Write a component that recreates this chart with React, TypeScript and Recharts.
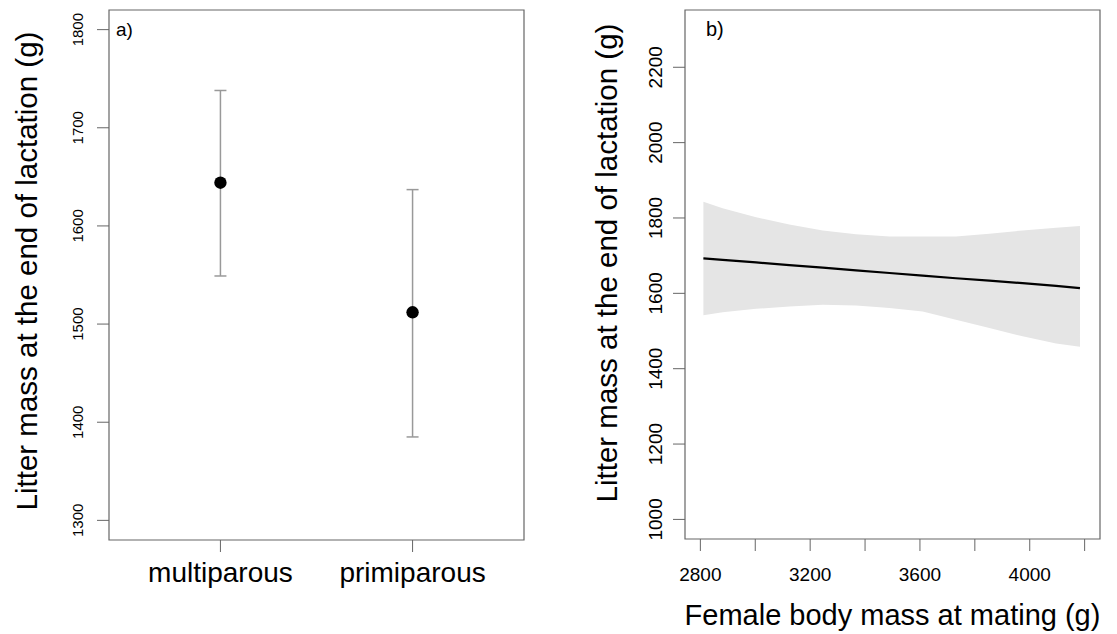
import React from 'react';
import {
  ScatterChart,
  ComposedChart,
  Scatter,
  ErrorBar,
  Area,
  Line,
  XAxis,
  YAxis,
  ReferenceArea,
} from 'recharts';

const FONT = '"Liberation Sans", Arial, Helvetica, sans-serif';

// panel a: litter mass by parity (mean with interval)
const parityGroups = ['multiparous', 'primiparous'];
const parityPos = [1, 2];
const parityMean = [1644, 1512];
const parityLow = [1549, 1385];
const parityHigh = [1738, 1637];
const yTicksA = [1300, 1400, 1500, 1600, 1700, 1800];

// panel b: litter mass vs female body mass (fit + confidence band)
const femaleMass = [2811, 2881, 3003, 3124, 3246, 3367, 3489, 3610, 3731, 3853, 3974, 4096, 4183];
const fitLitter = [1693, 1689, 1682, 1675, 1668, 1661, 1654, 1647, 1640, 1634, 1627, 1620, 1614];
const bandUpper = [1843, 1826, 1802, 1783, 1767, 1757, 1751, 1751, 1751, 1758, 1767, 1774, 1779];
const bandLower = [1542, 1550, 1559, 1565, 1570, 1568, 1561, 1552, 1530, 1508, 1486, 1467, 1458];
const xTicksB = [2800, 3000, 3200, 3400, 3600, 3800, 4000, 4200];
const xLabelsB = [2800, 3200, 3600, 4000];
const yTicksB = [1000, 1200, 1400, 1600, 1800, 2000, 2200];

const Y_TITLE = 'Litter mass at the end of lactation (g)';
const AXIS_GREY = '#666';

const parityData = parityPos.map((pos, i) => ({
  pos,
  mean: parityMean[i],
  err: [parityMean[i] - parityLow[i], parityHigh[i] - parityMean[i]],
}));

const massData = femaleMass.map((mass, i) => ({
  mass,
  fit: fitLitter[i],
  lo: bandLower[i],
  hi: bandUpper[i],
}));

const RotatedTick = (props: any) => {
  const { x, y, payload, size } = props;
  return (
    <text
      x={x}
      y={y}
      transform={`rotate(-90, ${x}, ${y})`}
      textAnchor="middle"
      fontSize={size}
      fontFamily={FONT}
      fill="#000"
    >
      {payload.value}
    </text>
  );
};

const GroupTick = (props: any) => {
  const { x, y, payload } = props;
  return (
    <text x={x} y={y + 30} textAnchor="middle" fontSize={28} fontFamily={FONT} fill="#000">
      {parityGroups[parityPos.indexOf(payload.value)]}
    </text>
  );
};

const MassTick = (props: any) => {
  const { x, y, payload } = props;
  if (!xLabelsB.includes(payload.value)) return null;
  return (
    <text x={x} y={y + 30} textAnchor="middle" fontSize={19} fontFamily={FONT} fill="#000">
      {payload.value}
    </text>
  );
};

const yTitle = (bx: number, cy: number) => () => (
  <text
    x={bx}
    y={cy}
    transform={`rotate(-90, ${bx}, ${cy})`}
    textAnchor="middle"
    fontSize={29.5}
    fontFamily={FONT}
    fill="#000"
  >
    {Y_TITLE}
  </text>
);

const panelTag = (tag: string, x: number, y: number, size: number) => () => (
  <text x={x} y={y} fontSize={size} fontFamily={FONT} fill="#000">
    {tag}
  </text>
);

const ParityPanel = () => (
  <ScatterChart width={560} height={634} margin={{ top: 10, right: 36, bottom: 0, left: 0 }}>
    <XAxis
      type="number"
      dataKey="pos"
      domain={[0.42, 2.58]}
      ticks={parityPos}
      interval={0}
      allowDataOverflow
      height={94}
      axisLine={false}
      tickSize={12}
      tickMargin={0}
      tickLine={{ stroke: AXIS_GREY }}
      tick={<GroupTick />}
    />
    <YAxis
      type="number"
      dataKey="mean"
      domain={[1280, 1820]}
      ticks={yTicksA}
      interval={0}
      allowDataOverflow
      width={109}
      axisLine={false}
      tickSize={12}
      tickMargin={14}
      tickLine={{ stroke: AXIS_GREY }}
      tick={<RotatedTick size={15} />}
      label={yTitle(37, 271)}
    />
    <ReferenceArea
      x1={0.42}
      x2={2.58}
      y1={1280}
      y2={1820}
      fill="none"
      stroke={AXIS_GREY}
      strokeWidth={1.2}
      label={panelTag('a)', 116, 36, 19)}
    />
    <Scatter data={parityData} dataKey="mean" isAnimationActive={false} shape={() => <g />}>
      <ErrorBar dataKey="err" direction="y" width={6} stroke="#999" strokeWidth={1.5} isAnimationActive={false} />
    </Scatter>
    <Scatter
      data={parityData}
      dataKey="mean"
      isAnimationActive={false}
      shape={(p: any) => <circle cx={p.cx} cy={p.cy} r={6.2} fill="#000" />}
    />
  </ScatterChart>
);

const MassPanel = () => (
  <ComposedChart width={557} height={634} data={massData} margin={{ top: 10, right: 17, bottom: 0, left: 0 }}>
    <XAxis
      type="number"
      dataKey="mass"
      domain={[2744, 4256]}
      ticks={xTicksB}
      interval={0}
      allowDataOverflow
      height={95}
      axisLine={false}
      tickSize={12}
      tickMargin={0}
      tickLine={{ stroke: AXIS_GREY }}
      tick={<MassTick />}
      label={() => (
        <text x={332.5} y={625} textAnchor="middle" fontSize={29} fontFamily={FONT} fill="#000">
          Female body mass at mating (g)
        </text>
      )}
    />
    <YAxis
      type="number"
      domain={[948, 2352]}
      ticks={yTicksB}
      interval={0}
      allowDataOverflow
      width={125}
      axisLine={false}
      tickSize={12}
      tickMargin={11}
      tickLine={{ stroke: AXIS_GREY }}
      tick={<RotatedTick size={19} />}
      label={yTitle(57, 263)}
    />
    <Area
      type="linear"
      dataKey={(d: any) => [d.lo, d.hi]}
      stroke="none"
      fill="#e5e5e5"
      fillOpacity={1}
      isAnimationActive={false}
    />
    <Line type="linear" dataKey="fit" stroke="#000" strokeWidth={2.2} dot={false} isAnimationActive={false} />
    <ReferenceArea
      x1={2744}
      x2={4256}
      y1={948}
      y2={2352}
      fill="none"
      stroke={AXIS_GREY}
      strokeWidth={1.2}
      label={panelTag('b)', 146, 36, 20)}
    />
  </ComposedChart>
);

export default function App() {
  return (
    <div style={{ position: 'absolute', left: 0, top: 0, width: 1117, height: 634, background: '#fff' }}>
      <div style={{ position: 'absolute', left: 0, top: 0 }}>
        <ParityPanel />
      </div>
      <div style={{ position: 'absolute', left: 560, top: 0 }}>
        <MassPanel />
      </div>
    </div>
  );
}
